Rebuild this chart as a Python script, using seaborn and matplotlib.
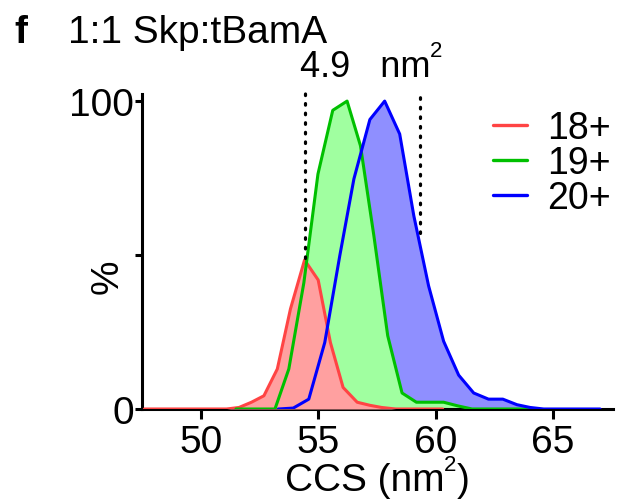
import numpy as np
import pandas as pd
import matplotlib
matplotlib.use("Agg")
import matplotlib.pyplot as plt
import seaborn as sns

# ---- data ----
ccs_18 = [47.6, 51.10, 51.63, 52.16, 52.69, 53.26, 53.82, 54.42, 55.00, 55.52, 56.06, 56.66, 57.20, 57.70, 58.30, 60.30]
pct_18 = [0.0, 0.0, 0.5, 2.2, 4.3, 13.0, 32.5, 48.4, 41.9, 21.6, 7.0, 2.2, 1.2, 0.5, 0.0, 0.0]

ccs_19 = [51.50, 53.16, 53.75, 54.39, 54.99, 55.62, 56.23, 56.80, 57.37, 57.96, 58.57, 59.18, 59.78, 60.34, 60.95, 61.55, 64.00]
pct_19 = [0.0, 0.0, 13.0, 41.0, 76.3, 97.0, 100.0, 85.5, 56.3, 23.8, 5.2, 2.2, 2.2, 2.2, 1.0, 0.0, 0.0]

ccs_20 = [53.30, 53.94, 54.60, 55.28, 55.92, 56.52, 57.20, 57.83, 58.47, 59.07, 59.70, 60.34, 60.98, 61.62, 62.25, 62.86, 63.46, 64.02, 64.60, 67.00]
pct_20 = [0.0, 0.3, 3.2, 21.6, 49.8, 74.7, 94.0, 100.0, 89.3, 62.8, 40.0, 22.0, 11.0, 5.2, 3.2, 3.2, 1.4, 0.5, 0.0, 0.0]

charge_states = ["18+", "19+", "20+"]
x_ticks = [50, 55, 60, 65]
y_ticks = [0, 50, 100]
y_tick_labels = ["0", "", "100"]
dotted_x = [54.42, 59.35]
dotted_bottom = [49, 57]
delta_text = "4.9"

line_colors = {"18+": "#FF4444", "19+": "#00C000", "20+": "#0000FF"}
fill_colors = {"18+": "#FFA0A0", "19+": "#A0FFA0", "20+": "#8F8FFF"}

df = pd.concat([
    pd.DataFrame({"CCS": ccs_18, "pct": pct_18, "z": "18+"}),
    pd.DataFrame({"CCS": ccs_19, "pct": pct_19, "z": "19+"}),
    pd.DataFrame({"CCS": ccs_20, "pct": pct_20, "z": "20+"}),
], ignore_index=True)

sns.set_style("ticks")
plt.rcParams["font.family"] = ["Liberation Sans", "DejaVu Sans"]
plt.rcParams["text.color"] = "black"
plt.rcParams["axes.labelcolor"] = "black"
plt.rcParams["xtick.color"] = "black"
plt.rcParams["ytick.color"] = "black"
plt.rcParams["axes.edgecolor"] = "black"

W, H = 635, 502
FS = 28
fig = plt.figure(figsize=(6.35, 5.02), dpi=100)
ax = fig.add_axes([142/W, 1-410/H, (613-142)/W, (410-95)/H])

# fills: blue at bottom, then green, then red on top
for i, z in enumerate(["20+", "19+", "18+"]):
    sub = df[df.z == z]
    ax.fill_between(sub.CCS, 0, sub.pct, color=fill_colors[z], lw=0, zorder=1 + i)

sns.lineplot(data=df, x="CCS", y="pct", hue="z", hue_order=charge_states,
             palette=line_colors, estimator=None, sort=False, lw=2.2, ax=ax, zorder=5)

for xv, yb in zip(dotted_x, dotted_bottom):
    ax.plot([xv, xv], [yb, 103.5], ls=(0, (0.5, 2.5)), color="black",
            lw=2.3, dash_capstyle="round", clip_on=False, zorder=6)

ax.set_xlim(47.5, 67.55)
ax.set_ylim(0, 102.3)
ax.set_xticks(x_ticks)
ax.set_yticks(y_ticks)
ax.set_yticklabels(y_tick_labels)
ax.tick_params(axis="both", labelsize=FS, width=2.2, direction="out")
ax.tick_params(axis="x", length=7, pad=4)
ax.tick_params(axis="y", length=5, pad=1)
for s in ["top", "right"]:
    ax.spines[s].set_visible(False)
for s in ["left", "bottom"]:
    ax.spines[s].set_linewidth(2.2)
ax.set_xlabel("")
ax.set_ylabel("")
fig.text(108/W, 1-277/H, "%", fontsize=FS, rotation=90, va="center", ha="center")

leg = ax.legend(title=None, frameon=False, fontsize=27, loc="upper left",
                bbox_to_anchor=(0.713, 0.997), handlelength=0.9, handletextpad=0.55,
                labelspacing=-0.02, borderaxespad=0)
for h in leg.get_lines():
    h.set_linewidth(2.4)

fig.text(14/W, 1-43/H, "f", fontsize=FS, fontweight="bold", va="baseline", ha="left")
fig.text(68/W, 1-43/H, "1:1 Skp:tBamA", fontsize=FS, va="baseline", ha="left")

renderer = fig.canvas.get_renderer()


def text_width(s, fs):
    t = fig.text(0, 0, s, fontsize=fs)
    w = t.get_window_extent(renderer).width
    t.remove()
    return w


def sup_text(cx, base_y, head, sup, tail, fs, sfs, rise):
    """Draw head + small raised sup + tail centred at cx (pixels), baseline base_y (pixels from top)."""
    wh = text_width(head, fs)
    ws = text_width(sup, sfs)
    wt = text_width(tail, fs) if tail else 0
    x0 = cx - (wh + ws + wt) / 2
    fig.text(x0 / W, 1 - base_y / H, head, fontsize=fs, va="baseline", ha="left")
    fig.text((x0 + wh) / W, 1 - (base_y - rise) / H, sup, fontsize=sfs, va="baseline", ha="left")
    if tail:
        fig.text((x0 + wh + ws) / W, 1 - base_y / H, tail, fontsize=fs, va="baseline", ha="left")


sup_text(371, 77, delta_text + "   nm", "2", "", 26, 16, 20)
sup_text(377, 491, "CCS (nm", "2", ")", FS, 16, 20)

fig.savefig("out.png", dpi=100)
